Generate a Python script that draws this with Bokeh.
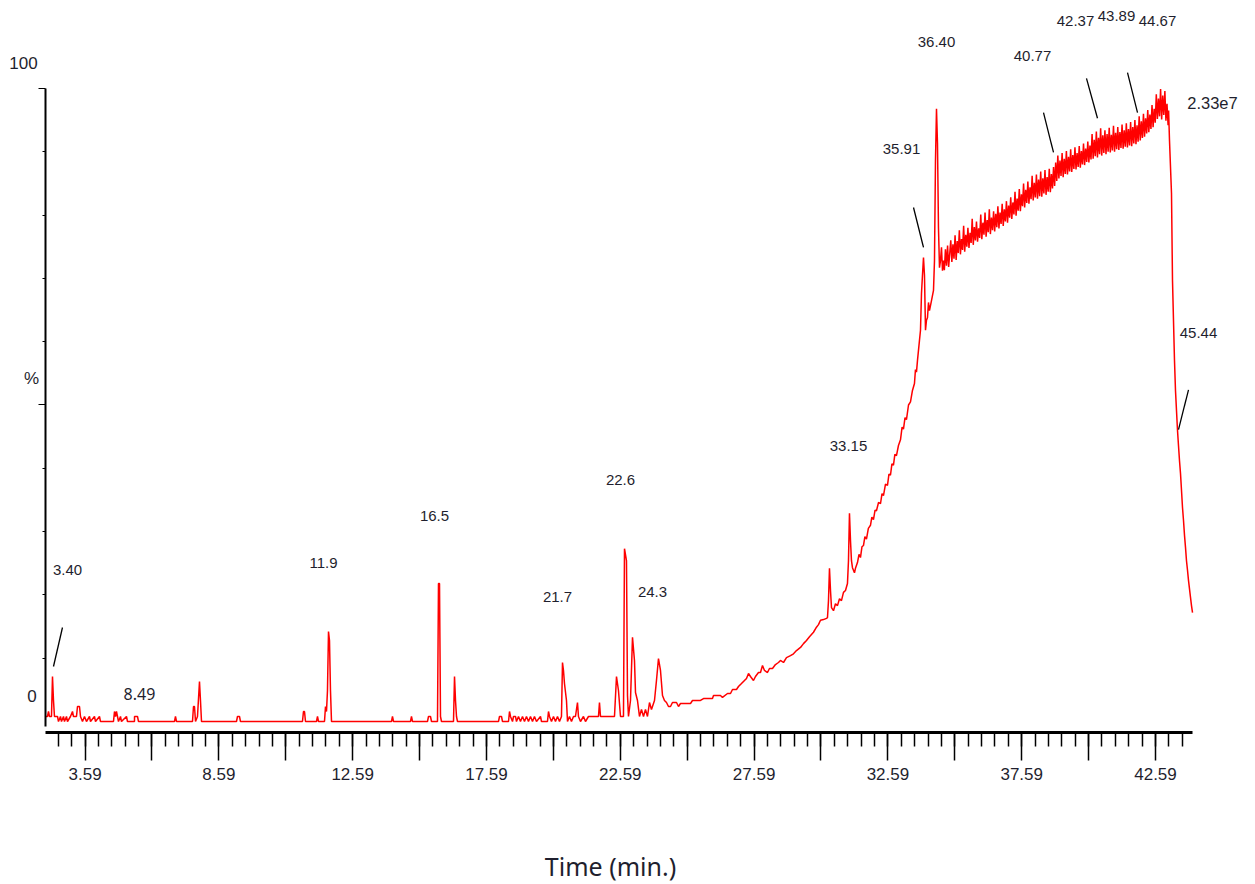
from bokeh.plotting import figure
from bokeh.models import ColumnDataSource, LabelSet, FixedTicker, CustomJSTickFormatter, LinearAxis
from bokeh.core.properties import value
from bokeh.embed import file_html
from bokeh.resources import INLINE

# ---------------- data (time in min, intensity in %) ----------------
early = [(1.110,0.79),(1.185,0.79),(1.222,1.58),(1.260,0.79),(1.334,0.79),(1.372,7.11),(1.409,3.32),(1.446,0.79),
         (1.559,0.79),(1.596,0),(1.671,0.79),(1.708,0),(1.783,0.79),(1.820,0),(1.895,0.79),(1.932,0),(2.044,0.79),
         (2.119,1.58),(2.156,0.79),(2.269,0.79),(2.306,2.37),(2.381,2.37),(2.418,0.79),(2.493,0),(2.568,0.79),
         (2.642,0),(2.755,0.79),(2.792,0),(2.941,0.79),(2.979,0),(3.128,0.79),(3.165,0),(3.651,0),(3.689,1.58),
         (3.726,0.79),(3.763,1.58),(3.801,0.79),(3.838,0),(3.913,0.79),(3.950,0),(4.137,0.79),(4.174,0),(4.436,0),
         (4.437,0.79),(4.548,0.79),(4.586,0),(5.931,0),(5.968,0.79),(6.006,0),(6.604,0),(6.641,2.37),(6.678,2.37),
         (6.716,0),(6.790,0.79),(6.865,6.32),(6.902,3.32),(6.940,0),(8.248,0),(8.285,0.79),(8.360,0.79),(8.397,0),
         (10.714,0),(10.751,1.58),(10.789,1.58),(10.826,0),(11.237,0),(11.275,0.79),(11.312,0),(11.536,0),
         (11.574,2.37),(11.611,1.58),(11.648,4.90),(11.686,14.2),(11.723,12.8),(11.760,4.90),(11.798,0)]

middle = [(14.040,0),(14.077,0.79),(14.115,0),(14.750,0),(14.787,0.79),(14.825,0),(15.385,0),(15.423,0.79),
          (15.497,0.79),(15.535,0),(15.759,0),(15.796,21.8),(15.834,21.8),(15.871,0.79),(15.908,0),(16.357,0),
          (16.395,7.11),(16.432,3.32),(16.469,0.79),(16.507,0)]

cluster = [(18.039,0),(18.076,0.79),(18.151,0.79),(18.188,0),(18.413,0),(18.450,1.58),(18.487,0.79),(18.562,0),
           (18.599,0.79),(18.674,0.79),(18.711,0),(18.786,0.79),(18.860,0),(18.935,0.79),(19.010,0),(19.084,0.79),
           (19.159,0),(19.234,0.79),(19.309,0),(19.383,0.79),(19.458,0),(19.608,0.79),(19.645,0),(19.869,0),
           (19.907,1.58),(19.944,0.79),(20.019,0),(20.093,0.79),(20.168,0),(20.243,0.79),(20.318,0),(20.392,0.79),
           (20.430,9.32),(20.467,8.06),(20.504,6.0),(20.579,3.32),(20.617,0),(20.691,0.79),(20.766,0),(20.841,0.79),
           (20.915,0.79),(20.990,3.0),(21.027,0.79),(21.102,0),(21.214,0.79),(21.289,0),(21.401,0.79),(21.775,0.79),
           (21.812,3.0),(21.850,0.79),(22.373,0.79),(22.448,7.11),(22.522,4.90),(22.597,0.79),(22.709,0.79),
           (22.747,27.3),(22.821,25.4),(22.859,4.1),(22.896,0.79),(22.971,3.32),(23.046,13.3),(23.120,9.64),
           (23.158,4.58),(23.232,3.32),(23.307,0.79),(23.382,1.90),(23.457,0.79),(23.531,1.90),(23.606,0.79),
           (23.681,3.0),(23.755,1.90),(23.868,3.32),(23.942,6.48),(24.017,9.95),(24.092,8.06),(24.167,4.1),
           (24.241,3.32),(24.316,3.0),(24.391,2.37),(24.466,2.37),(24.540,3.0),(24.690,3.0),(24.765,2.37),(24.839,2.84)]

hump = [(25.213,2.84),(25.288,3.32),(25.587,3.32),(25.699,3.63),(26.035,3.63),(26.073,4.1),(26.334,4.1),(26.409,3.8),
        (26.596,4.42),(26.708,4.42),(26.783,5.06),(26.932,5.06),(27.007,5.53),(27.119,6.0),(27.231,6.48),(27.306,6.79),
        (27.381,7.58),(27.455,7.11),(27.567,6.48),(27.642,7.11),(27.754,7.74),(27.829,7.74),(27.904,8.85),(27.978,8.06),
        (28.090,7.74),(28.165,8.37),(28.277,8.37),(28.389,9.0),(28.501,9.32),(28.576,9.64),(28.688,9.32),(28.800,10.1),
        (28.950,10.4),(29.062,10.7),(29.174,11.2),(29.324,11.7),(29.436,12.3),(29.548,12.8),(29.660,13.4),(29.809,14.1),
        (29.921,14.9),(29.996,15.3),(30.071,16.0),(30.183,16.1),(30.295,16.3),(30.332,16.4),(30.370,19.1),(30.407,24.2),
        (30.445,20.7),(30.482,18.0),(30.557,17.5),(30.631,18.6),(30.706,18.3),(30.781,19.4),(30.855,19.1),(30.930,20.4),
        (31.005,20.7),(31.079,21.8),(31.117,25.4),(31.154,32.9),(31.192,28.6),(31.229,25.4),(31.266,24.3),(31.341,23.5),
        (31.378,24.2),(31.453,25.1),(31.510,26.4),(31.565,25.9),(31.620,27.6),(31.677,27.8),(31.730,29.2),(31.789,28.8),
        (31.860,30.5),(31.939,31.0),(31.990,32.3),(32.051,31.9),(32.110,33.4),(32.163,33.3),(32.240,34.6),(32.313,34.4),
        (32.370,36.0),(32.425,35.7),(32.500,37.5),(32.574,37.3),(32.630,39.1),(32.686,38.9),(32.740,40.7),(32.798,40.5),
        (32.850,42.2),(32.910,42.0),(32.985,43.6),(33.060,44.5),(33.120,46.5),(33.172,46.2),(33.230,48.0),(33.284,47.7),
        (33.360,50.0),(33.434,50.5),(33.508,52.3),(33.583,53.4),(33.620,55.6),(33.658,55.2),(33.695,57.0),(33.770,60.2),
        (33.808,61.8),(33.845,67.6),(33.882,70.5),(33.920,73.3),(33.957,70.5),(33.995,61.8),(34.032,63.4),(34.069,63.8),
        (34.107,66.2),(34.144,64.9),(34.219,66.5),(34.294,68.1),(34.331,72.8),(34.368,88.6),(34.406,96.8),(34.443,91.3),
        (34.480,78.0),(34.518,71.7),(34.555,72.8),(34.593,74.9),(34.630,71.2),(34.667,72.8)]

plateau = [(34.70,71.3),(34.74,74.6),(34.78,72.0),(34.82,75.2),(34.86,71.8),(34.90,73.9),(34.94,76.0),(34.98,72.6),
           (35.02,75.4),(35.06,73.1),(35.10,76.8),(35.14,72.9),(35.18,75.9),(35.22,74.0),(35.26,77.6),(35.30,73.8),
           (35.34,76.2),(35.38,74.5),(35.42,78.3),(35.46,74.2),(35.50,76.9),(35.54,75.0),(35.58,78.0),(35.62,74.8),
           (35.66,77.2),(35.70,75.6),(35.74,79.4),(35.78,75.3),(35.82,78.1),(35.86,76.0),(35.90,79.0),(35.94,75.8),
           (35.98,77.9),(36.02,76.4),(36.06,80.1),(36.10,76.2),(36.14,78.8),(36.18,76.9),(36.22,80.4),(36.26,76.6),
           (36.30,79.2),(36.34,77.3),(36.38,80.9),(36.42,77.0),(36.46,79.6),(36.50,77.6),(36.54,80.6),(36.58,77.4),
           (36.62,80.2),(36.66,78.1),(36.70,81.4),(36.74,77.9),(36.78,80.4),(36.82,78.6),(36.86,81.8),(36.90,78.3),
           (36.94,80.9),(36.98,79.0),(37.02,82.2),(37.06,78.8),(37.10,81.5),(37.14,79.6),(37.18,82.8),(37.22,79.4),
           (37.26,82.0),(37.30,80.1),(37.34,83.7),(37.38,79.9),(37.42,82.6),(37.46,80.7),(37.50,84.1),(37.54,80.6),
           (37.58,83.3),(37.62,81.4),(37.66,85.0),(37.70,81.2),(37.74,84.0),(37.78,81.9),(37.82,85.3),(37.86,81.8),
           (37.90,84.4),(37.94,82.5),(37.98,86.2),(38.02,82.3),(38.06,85.1),(38.10,82.8),(38.14,86.4),(38.18,82.6),
           (38.22,85.6),(38.26,83.0),(38.30,86.9),(38.34,82.9),(38.38,85.8),(38.42,83.4),(38.46,87.1),(38.50,83.2),
           (38.54,86.0),(38.58,83.7),(38.62,87.3),(38.66,83.6),(38.70,86.5),(38.74,84.2),(38.78,87.6),(38.82,84.6),
           (38.86,88.3),(38.90,85.4),(38.94,89.4),(38.98,85.8),(39.02,88.6),(39.06,86.2),(39.10,89.8),(39.14,86.0),
           (39.18,88.9),(39.22,86.5),(39.26,90.1),(39.30,86.4),(39.34,89.2),(39.38,86.9),(39.42,90.4),(39.46,86.8),
           (39.50,89.5),(39.54,87.3),(39.58,90.7),(39.62,87.2),(39.66,89.8),(39.70,87.6),(39.74,90.9),(39.78,87.5),
           (39.82,90.1),(39.86,88.0),(39.90,91.3),(39.94,87.9),(39.98,90.5),(40.02,88.4),(40.06,91.6),(40.10,88.3),
           (40.14,91.0),(40.18,88.8),(40.22,92.8),(40.26,88.9),(40.30,91.9),(40.34,89.3),(40.38,93.2),(40.42,89.1),
           (40.46,92.2),(40.50,89.6),(40.54,93.7),(40.58,89.4),(40.62,92.6),(40.66,89.8),(40.70,93.4),(40.74,89.6),
           (40.78,92.8),(40.82,90.0),(40.86,93.8),(40.90,89.9),(40.94,92.7),(40.98,90.2),(41.02,94.1),(41.06,90.0),
           (41.10,93.0),(41.14,90.4),(41.18,93.9),(41.22,90.3),(41.26,93.1),(41.30,90.6),(41.34,94.3),(41.38,90.5),
           (41.42,93.4),(41.46,90.8),(41.50,94.5),(41.54,90.7),(41.58,93.6),(41.62,91.0),(41.66,94.7),(41.70,90.9),
           (41.74,93.9),(41.78,91.3),(41.82,95.0),(41.86,91.2),(41.90,94.2),(41.94,91.6),(41.98,95.6),(42.02,91.8),
           (42.06,94.8),(42.10,92.2),(42.14,96.0),(42.18,92.4),(42.22,95.3),(42.26,92.9),(42.30,96.6),(42.34,93.1),
           (42.38,95.9),(42.42,93.6),(42.46,97.4),(42.50,93.9),(42.54,96.8),(42.58,94.6),(42.62,99.1),(42.66,95.2),
           (42.70,98.4),(42.74,95.6),(42.78,99.9),(42.82,95.1),(42.86,98.9),(42.90,95.8),(42.94,99.6),(42.98,94.9),
           (43.02,97.6),(43.06,94.2),(43.08,96.5)]

tail = [(43.113,91.8),(43.188,83.4),(43.225,69.7),(43.300,57.0),(43.337,52.3),(43.375,49.1),(43.412,46.0),
        (43.449,43.6),(43.487,41.2),(43.524,39.2),(43.562,36.5),(43.599,33.8),(43.636,31.8),(43.674,29.4),
        (43.711,27.5),(43.748,25.4),(43.786,23.9),(43.823,22.3),(43.898,19.6),(43.935,18.3),(43.973,17.2)]

trace = early + middle + cluster + hump + plateau + tail
time_min = [a for a, b in trace]
intensity = [b for a, b in trace]

# axis ticks
x_labeled_ticks = [2.59, 7.59, 12.59, 17.59, 22.59, 27.59, 32.59, 37.59, 42.59]
x_tick_labels = {"2.59": "3.59", "7.59": "8.59"}
x_long_unlabeled = [5.09, 10.09, 15.09, 20.09, 25.09, 30.09, 35.09, 40.09]
x_minor_ticks = [1.59, 2.09, 2.59, 3.09, 3.59, 4.09, 4.59, 5.09, 5.59, 6.09, 6.59, 7.09, 7.59, 8.09, 8.59,
                 9.09, 9.59, 10.09, 10.59, 11.09, 11.59, 12.09, 12.59, 13.09, 13.59, 14.09, 14.59, 15.09,
                 15.59, 16.09, 16.59, 17.09, 17.59, 18.09, 18.59, 19.09, 19.59, 20.09, 20.59, 21.09, 21.59,
                 22.09, 22.59, 23.09, 23.59, 24.09, 24.59, 25.09, 25.59, 26.09, 26.59, 27.09, 27.59, 28.09,
                 28.59, 29.09, 29.59, 30.09, 30.59, 31.09, 31.59, 32.09, 32.59, 33.09, 33.59, 34.09, 34.59,
                 35.09, 35.59, 36.09, 36.59, 37.09, 37.59, 38.09, 38.59, 39.09, 39.59, 40.09, 40.59, 41.09,
                 41.59, 42.09, 42.59, 43.09, 43.59]
y_long_ticks = [50, 100]
y_short_ticks = [10, 20, 30, 40, 60, 70, 80, 90]

# peak annotations
peak_text = ["3.40", "11.9", "16.5", "21.7", "22.6", "24.3", "33.15", "35.91", "36.40", "40.77",
             "42.37", "43.89", "44.67", "45.44"]
peak_t = [1.932, 11.499, 15.647, 20.243, 22.597, 23.793, 31.117, 33.098, 34.406, 37.993,
          39.600, 41.132, 42.664, 44.197]
peak_v = [23.9, 25.0, 32.4, 19.7, 38.1, 20.5, 43.6, 90.5, 107.3, 105.2, 110.6, 111.4, 110.6, 61.3]

leader_t0 = [1.409, 33.546, 38.404, 40.011, 41.543, 43.823]
leader_v0 = [8.69, 81.2, 96.2, 101.6, 102.5, 52.4]
leader_t1 = [1.745, 33.920, 38.778, 40.422, 41.917, 43.449]
leader_v1 = [14.85, 74.9, 89.9, 95.3, 96.2, 46.1]

TXT = "#1f1f2e"
T_START, T_END = 1.110, 43.973     # time axis extent
V_BOTTOM = -1.74                    # intensity at the time axis line

p = figure(width=1250, height=884, x_range=(-0.571, 46.140), y_range=(-25.75, 113.90),
           output_backend="svg", toolbar_location=None,
           x_axis_location=None, y_axis_location=None, min_border=0)
p.xgrid.visible = False
p.ygrid.visible = False
p.outline_line_color = None
p.background_fill_color = "white"
p.border_fill_color = "white"

p.line(time_min, intensity, line_color="#ff0000", line_width=1.5)

# time axis (labeled long ticks + half-minute ticks)
xa = LinearAxis(fixed_location=V_BOTTOM, bounds=(T_START, T_END),
                ticker=FixedTicker(ticks=x_labeled_ticks, minor_ticks=x_minor_ticks))
xa.formatter = CustomJSTickFormatter(args=dict(labels=x_tick_labels), code="""
    const k = tick.toFixed(2);
    return (labels[k] !== undefined) ? labels[k] : k;
""")
xa.axis_line_width = 3
xa.axis_line_color = "black"
xa.major_tick_in = 0
xa.major_tick_out = 28
xa.minor_tick_in = 0
xa.minor_tick_out = 14
xa.major_tick_line_width = 1.5
xa.minor_tick_line_width = 1.5
xa.major_label_text_font = "Liberation Sans"
xa.major_label_text_font_size = "17px"
xa.major_label_text_color = TXT
xa.major_label_standoff = 7
p.add_layout(xa, "below")

xb = LinearAxis(fixed_location=V_BOTTOM, bounds=(T_START, T_END),
                ticker=FixedTicker(ticks=[], minor_ticks=x_long_unlabeled))
xb.axis_line_color = None
xb.major_tick_line_color = None
xb.minor_tick_in = 0
xb.minor_tick_out = 28
xb.minor_tick_line_width = 1.5
p.add_layout(xb, "below")

# intensity axis
ya = LinearAxis(fixed_location=T_START, bounds=(-0.8, 100),
                ticker=FixedTicker(ticks=[], minor_ticks=y_short_ticks))
ya.axis_line_width = 2
ya.minor_tick_in = 0
ya.minor_tick_out = 3
ya.minor_tick_line_width = 1.2
p.add_layout(ya, "left")

yb = LinearAxis(fixed_location=T_START, bounds=(-0.8, 100),
                ticker=FixedTicker(ticks=[], minor_ticks=y_long_ticks))
yb.axis_line_color = None
yb.minor_tick_in = 0
yb.minor_tick_out = 7
yb.minor_tick_line_width = 1.2
p.add_layout(yb, "left")

# leader lines
p.segment(x0=leader_t0, y0=leader_v0, x1=leader_t1, y1=leader_v1, line_color="black", line_width=1.3)

peak_src = ColumnDataSource(dict(t=peak_t, v=peak_v, text=peak_text))
p.add_layout(LabelSet(x="t", y="v", text="text", source=peak_src, text_align="center",
                      text_baseline="middle", text_font=value("Liberation Sans"),
                      text_font_size="15px", text_color=TXT))

other_src = ColumnDataSource(dict(t=[4.623], v=[4.42], text=["8.49"]))
p.add_layout(LabelSet(x="t", y="v", text="text", source=other_src, text_align="center",
                      text_baseline="middle", text_font=value("Noto Sans"),
                      text_font_size="16px", text_color=TXT))

scale_src = ColumnDataSource(dict(t=[44.719], v=[97.7], text=["2.33e7"]))
p.add_layout(LabelSet(x="t", y="v", text="text", source=scale_src, text_align="center",
                      text_baseline="middle", text_font=value("Liberation Sans"),
                      text_font_size="16.5px", text_color=TXT))

yl_src = ColumnDataSource(dict(t=[0.288, 0.606, 0.587], v=[104.1, 4.1, 54.2], text=["100", "0", "%"]))
p.add_layout(LabelSet(x="t", y="v", text="text", source=yl_src, text_align="center",
                      text_baseline="middle", text_font=value("Liberation Sans"),
                      text_font_size="17px", text_color=TXT))

xl_src = ColumnDataSource(dict(t=[22.224], v=[-22.9], text=["Time (min.)"]))
p.add_layout(LabelSet(x="t", y="v", text="text", source=xl_src, text_align="center",
                      text_baseline="middle", text_font=value("Noto Sans"),
                      text_font_size="25px", text_color=TXT))

open("out.html", "w").write(file_html(p, INLINE))
